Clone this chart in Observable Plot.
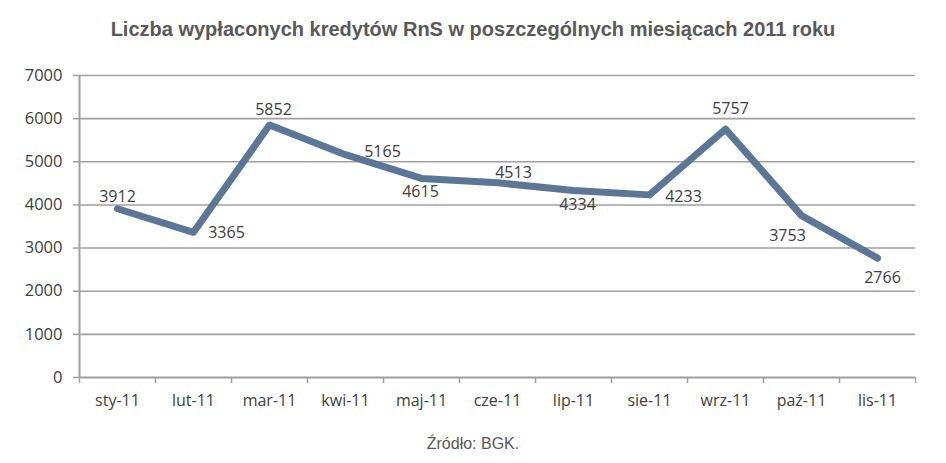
<!DOCTYPE html>
<html>
<head>
<meta charset="utf-8">
<script src="https://cdn.jsdelivr.net/npm/d3@7"></script>
<script src="https://cdn.jsdelivr.net/npm/@observablehq/plot@0.6"></script>
<style>
  body { margin: 0; background: #fff; width: 946px; height: 463px; overflow: hidden; }
  #title { height: 55px; box-sizing: border-box; padding-top: 18px; text-align: center; line-height: 23px;
    font-family: "Liberation Sans", Arial, sans-serif; font-weight: bold; font-size: 20px; color: #595959; }
  #caption { text-align: center; font-family: "Liberation Sans", Arial, sans-serif; font-size: 16px; color: #595959; margin-top: 20px; }
</style>
</head>
<body>
<div id="title">Liczba wypłaconych kredytów RnS w poszczególnych miesiącach 2011 roku</div>
<div id="chart"></div>
<div id="caption">Źródło: BGK.</div>
<script>
const months = ["sty-11","lut-11","mar-11","kwi-11","maj-11","cze-11","lip-11","sie-11","wrz-11","paź-11","lis-11"];
const values = [3912, 3365, 5852, 5165, 4615, 4513, 4334, 4233, 5757, 3753, 2766];
const yTicks = [0, 1000, 2000, 3000, 4000, 5000, 6000, 7000];

// label placement offsets (styling, in pixels)
const labelOffsets = [[0,-12],[33,1],[4,-15],[37,-3],[-1,13],[16,-10],[4,14],[34,2],[5,-20],[-14,20],[5,20]];

const data = months.map((m, i) => ({month: m, idx: i + 0.5, value: values[i]}));
const boundaries = d3.range(months.length + 1);

const font = "'Open Sans', 'Noto Sans', sans-serif";
const grey = "#a0a0a0";

const labelMarks = data.map((d, i) => Plot.text([d], {
  x: "idx", y: "value", text: d => String(d.value),
  dx: labelOffsets[i][0], dy: labelOffsets[i][1],
  fontSize: 16, fill: "#404040", fontFamily: font
}));

const chart = Plot.plot({
  width: 946,
  height: 360,
  marginLeft: 79,
  marginRight: 31,
  marginTop: 20,
  marginBottom: 38,
  style: {fontFamily: font, fontSize: "16px", color: "#404040", background: "#fff"},
  x: {type: "linear", domain: [0, months.length], label: null},
  y: {type: "linear", domain: [0, 7000], label: null},
  marks: [
    Plot.gridY(yTicks.filter(t => t > 0), {stroke: grey, strokeOpacity: 1, strokeWidth: 1.6}),
    Plot.ruleX([0], {stroke: grey, strokeWidth: 2}),
    Plot.ruleY([0], {stroke: grey, strokeWidth: 2}),
    Plot.axisY({ticks: yTicks, tickSize: 6, tickPadding: 11, stroke: grey, strokeWidth: 1.5, fontSize: 16.5, fill: "#404040", tickFormat: d => String(d), label: null}),
    Plot.axisX({ticks: boundaries, tickSize: 6, tickFormat: () => "", stroke: grey, strokeWidth: 1.5, label: null}),
    Plot.axisX({ticks: data.map(d => d.idx), tickSize: 0, tickPadding: 17, fontSize: 16, fill: "#404040", tickFormat: d => months[Math.floor(d)], label: null}),
    Plot.line(data, {x: "idx", y: "value", stroke: "#5b7696", strokeWidth: 7, strokeLinejoin: "round", strokeLinecap: "round"}),
    ...labelMarks
  ]
});
document.getElementById("chart").appendChild(chart);
</script>
</body>
</html>
